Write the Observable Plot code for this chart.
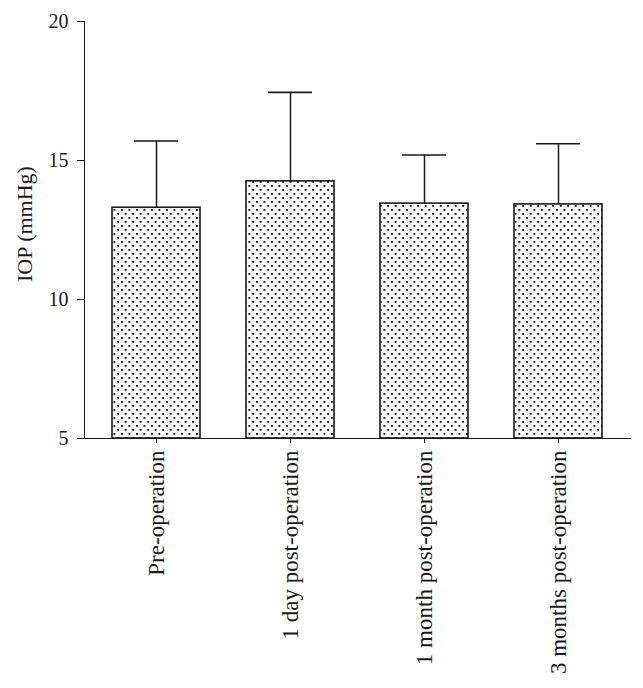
<!DOCTYPE html>
<html>
<head>
<meta charset="utf-8">
<script src="https://cdn.jsdelivr.net/npm/d3@7"></script>
<script src="https://cdn.jsdelivr.net/npm/@observablehq/plot@0.6"></script>
<style>
  html, body { margin: 0; padding: 0; background: #fff; }
  svg { display: block; }
</style>
</head>
<body>
<div id="chart"></div>
<script>
const categories = ["Pre-operation", "1 day post-operation", "1 month post-operation", "3 months post-operation"];
const means = [13.3, 14.25, 13.45, 13.42];
const sds = [2.4, 3.2, 1.75, 2.18];
const yTicks = [5, 10, 15, 20];
const yLabel = "IOP (mmHg)";
const yMin = 5, yMax = 20;

const data = categories.map((c, i) => ({cat: c, mean: means[i], upper: means[i] + sds[i]}));

const ink = "#1a1a1a";

function defsMark() {
  const ns = "http://www.w3.org/2000/svg";
  const defs = document.createElementNS(ns, "defs");
  const pat = document.createElementNS(ns, "pattern");
  pat.setAttribute("id", "dots");
  pat.setAttribute("patternUnits", "userSpaceOnUse");
  pat.setAttribute("width", "7.5");
  pat.setAttribute("height", "8");
  const bg = document.createElementNS(ns, "rect");
  bg.setAttribute("width", "7.5"); bg.setAttribute("height", "8"); bg.setAttribute("fill", "#fff");
  pat.appendChild(bg);
  for (const [x, y] of [[1, 1], [4.75, 5]]) {
    const r = document.createElementNS(ns, "rect");
    r.setAttribute("x", x); r.setAttribute("y", y);
    r.setAttribute("width", "1.8"); r.setAttribute("height", "1.8");
    r.setAttribute("fill", "#000");
    pat.appendChild(r);
  }
  defs.appendChild(pat);
  return defs;
}

const chart = Plot.plot({
  width: 643,
  height: 688,
  marginLeft: 84,
  marginRight: 13,
  marginTop: 21,
  marginBottom: 250,
  style: {fontFamily: "'Liberation Serif', 'DejaVu Serif', serif", fontSize: "20px", color: ink, background: "#fff"},
  x: {
    domain: categories,
    paddingInner: 0.34,
    paddingOuter: 0.193,
    tickRotate: -90,
    tickSize: 5,
    tickPadding: 7,
    label: null,
    line: true
  },
  y: {
    domain: [yMin, yMax],
    ticks: yTicks,
    tickSize: 7,
    tickPadding: 9,
    label: yLabel,
    labelAnchor: "center",
    labelArrow: "none",
    labelOffset: 68,
    line: true
  },
  marks: [
    defsMark,
    Plot.barY(data, {x: "cat", y1: () => yMin, y2: "mean", fill: "url(#dots)", stroke: ink, strokeWidth: 1.6}),
    Plot.ruleX(data, {x: "cat", y1: "mean", y2: "upper", stroke: ink, strokeWidth: 1.5}),
    Plot.tickY(data, {x: "cat", y: "upper", stroke: ink, strokeWidth: 1.6, inset: 22})
  ]
});

chart.querySelectorAll("g").forEach(g => { if (g.hasAttribute("font-size")) g.removeAttribute("font-size"); });
chart.querySelectorAll("[aria-label='x-axis tick label'] text").forEach(t => t.setAttribute("font-size", 23));
chart.querySelectorAll("[aria-label='y-axis tick label'] text").forEach(t => t.setAttribute("font-size", 20));
chart.querySelectorAll("[aria-label='y-axis label']").forEach(g => {
  g.querySelectorAll("text").forEach(t => t.setAttribute("font-size", 22));
  const tr = g.getAttribute("transform") || "";
  g.setAttribute("transform", (tr + " translate(0,-6)").trim());
});
document.getElementById("chart").appendChild(chart);
</script>
</body>
</html>
